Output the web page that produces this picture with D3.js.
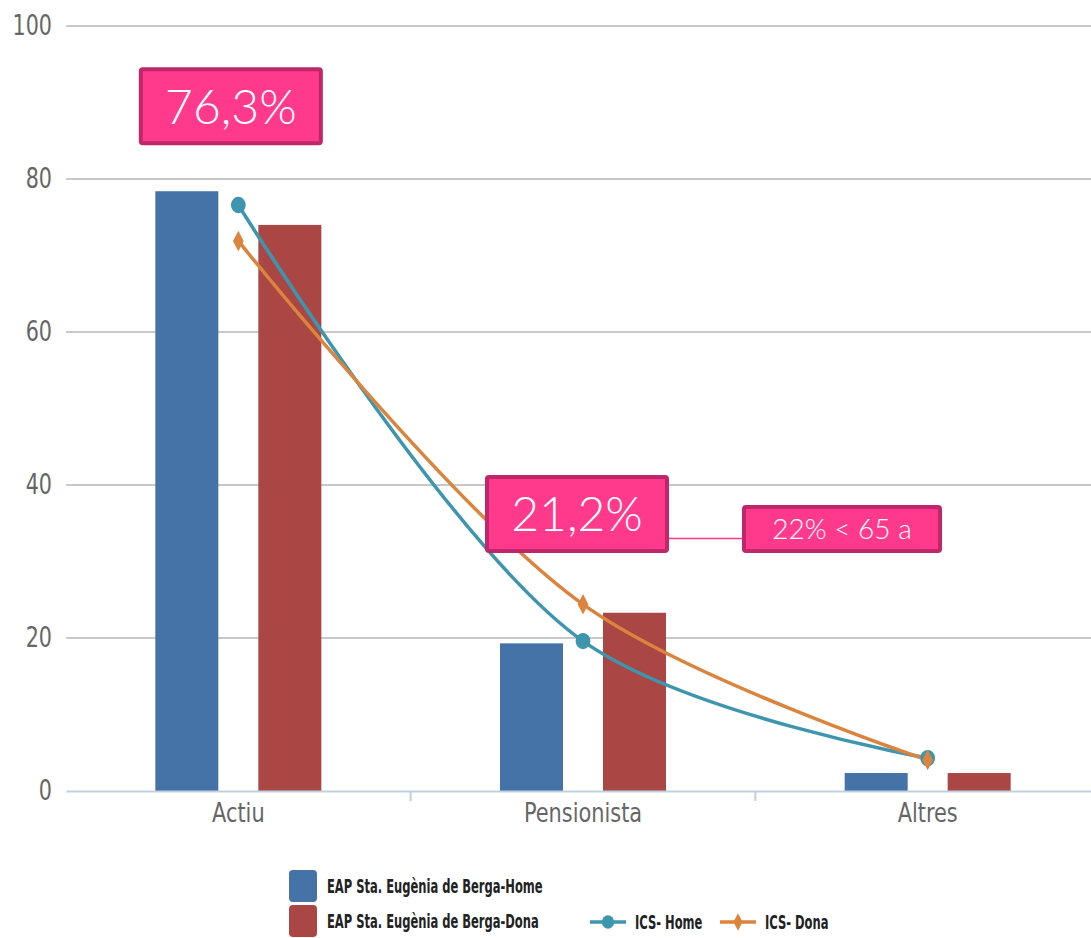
<!DOCTYPE html>
<html>
<head>
<meta charset="utf-8">
<script src="https://cdn.jsdelivr.net/npm/d3@7"></script>
<style>
  body { margin: 0; background: #fff; }
  .narrow { font-family: "Liberation Sans Narrow", "DejaVu Sans Condensed", "Open Sans", sans-serif; font-stretch: condensed; }
  .note { font-family: Lato, "Open Sans", sans-serif; font-weight: 300; }
</style>
</head>
<body>
<svg id="chart"></svg>
<script>
let categories = ['Actiu', 'Pensionista', 'Altres']
let eapHome = [78.4, 19.3, 2.35]
let eapDona = [74.0, 23.3, 2.35]
let icsHome = [76.6, 19.6, 4.3]
let icsDona = [71.9, 24.4, 4.05]
let yTicks = [0, 20, 40, 60, 80, 100]

let width = 1091
let height = 938
let plotLeft = 66
let plotRight = 1100
let plotTop = 26
let plotBottom = 791

let svg = d3.select('#chart').attr('width', width).attr('height', height)

let xScale = d3.scaleBand().domain(categories).range([plotLeft, plotRight])
let yScale = d3.scaleLinear().domain([0, 100]).range([plotBottom, plotTop])

let barW = 63
let barOff = 51.5

// grid
svg.append('g')
    .selectAll('line')
    .data(yTicks.filter(d => d > 0))
    .enter()
    .append('line')
    .attr('x1', plotLeft)
    .attr('x2', width)
    .attr('y1', d => yScale(d))
    .attr('y2', d => yScale(d))
    .attr('stroke', '#c8c8c8')
    .attr('stroke-width', 2)

// y labels
let yAxis = d3.axisLeft(yScale).tickValues(yTicks).tickSize(0)
let gy = svg.append('g')
    .attr('transform', 'translate(' + plotLeft + ',0)')
    .call(yAxis)
gy.select('.domain').remove()
gy.selectAll('text')
    .attr('class', 'narrow')
    .attr('font-size', 28)
    .attr('fill', '#666')
    .attr('x', -14 / 0.82)
    .attr('transform', 'scale(0.82,1)')

// bars
let series = [
    { vals: eapHome, color: '#4572a7', off: -barOff },
    { vals: eapDona, color: '#aa4643', off: barOff }
]
series.forEach(s => {
    svg.append('g')
        .selectAll('rect')
        .data(categories)
        .enter()
        .append('rect')
        .attr('x', (c) => xScale(c) + xScale.bandwidth() / 2 + s.off - barW / 2)
        .attr('width', barW)
        .attr('y', (c, i) => yScale(s.vals[i]))
        .attr('height', (c, i) => plotBottom - yScale(s.vals[i]))
        .attr('fill', s.color)
})

// x axis
let xAxis = d3.axisBottom(xScale).tickSize(0).tickPadding(12)
let gx = svg.append('g')
    .attr('transform', 'translate(0,' + plotBottom + ')')
    .call(xAxis)
gx.select('.domain').attr('stroke', '#c0d0e0').attr('stroke-width', 2)
gx.selectAll('text')
    .attr('class', 'narrow')
    .attr('font-size', 27)
    .attr('fill', '#666')
    .attr('transform', 'scale(0.86,1)')
gx.selectAll('.sep')
    .data(categories.slice(1))
    .enter()
    .append('line')
    .attr('x1', c => xScale(c))
    .attr('x2', c => xScale(c))
    .attr('y1', 0)
    .attr('y2', 10)
    .attr('stroke', '#c0d0e0')
    .attr('stroke-width', 2)

// spline lines
let cx = (c) => xScale(c) + xScale.bandwidth() / 2
let line = d3.line()
    .x((d, i) => cx(categories[i]))
    .y(d => yScale(d))
    .curve(d3.curveCatmullRom.alpha(0.5))

let lines = [
    { vals: icsHome, color: '#3d96ae', symbol: d3.symbolCircle, size: 190 },
    { vals: icsDona, color: '#db843d', symbol: d3.symbolDiamond, size: 110 }
]
lines.forEach(l => {
    svg.append('path')
        .attr('d', line(l.vals))
        .attr('fill', 'none')
        .attr('stroke', l.color)
        .attr('stroke-width', 3.5)
})
lines.forEach(l => {
    svg.append('g')
        .selectAll('path')
        .data(l.vals)
        .enter()
        .append('path')
        .attr('d', d3.symbol().type(l.symbol).size(l.size))
        .attr('transform', (d, i) => 'translate(' + cx(categories[i]) + ',' + yScale(d) + ') scale(0.95,1.05)')
        .attr('fill', l.color)
})

// annotation boxes
let drawNote = (x, y, w, h, text, size) => {
    let g = svg.append('g')
    g.append('rect')
        .attr('x', x + 2).attr('y', y + 2)
        .attr('width', w - 4).attr('height', h - 4)
        .attr('rx', 2)
        .attr('fill', '#ff3a8c')
        .attr('stroke', '#c0266a')
        .attr('stroke-width', 4)
    g.append('text')
        .attr('class', 'note')
        .attr('x', x + w / 2)
        .attr('y', y + h / 2)
        .attr('dy', '0.36em')
        .attr('text-anchor', 'middle')
        .attr('font-size', size)
        .attr('fill', '#fff')
        .text(text)
}
svg.append('line')
    .attr('x1', cx('Pensionista') + 86).attr('x2', cx('Pensionista') + 160)
    .attr('y1', yScale(33)).attr('y2', yScale(33))
    .attr('stroke', '#ff3a8c').attr('stroke-width', 1.5)
drawNote(cx('Actiu') - 99.5, yScale(94.6), 184, 78, '76,3%', 48)
drawNote(cx('Pensionista') - 98, yScale(41.3), 184, 78, '21,2%', 48)
drawNote(cx('Pensionista') + 159, yScale(37.4), 200, 48, '22% < 65 a', 28)

// legend
let legend = svg.append('g').attr('class', 'narrow')
let legItems = [
    { type: 'rect', color: '#4572a7', label: 'EAP Sta. Eugènia de Berga-Home', x: 289, y: 886 },
    { type: 'rect', color: '#aa4643', label: 'EAP Sta. Eugènia de Berga-Dona', x: 289, y: 921 },
    { type: 'line', color: '#3d96ae', symbol: d3.symbolCircle, size: 130, label: 'ICS- Home', x: 590, y: 922 },
    { type: 'line', color: '#db843d', symbol: d3.symbolDiamond, size: 80, label: 'ICS- Dona', x: 720, y: 922 }
]
legItems.forEach(it => {
    let g = legend.append('g').attr('transform', 'translate(' + it.x + ',' + it.y + ')')
    let tx
    if (it.type === 'rect') {
        g.append('rect').attr('x', 0).attr('y', -16).attr('width', 28).attr('height', 32)
            .attr('rx', 4).attr('fill', it.color)
        tx = 38
    } else {
        g.append('line').attr('x1', 0).attr('x2', 36).attr('y1', 0).attr('y2', 0)
            .attr('stroke', it.color).attr('stroke-width', 3.5)
        g.append('path').attr('d', d3.symbol().type(it.symbol).size(it.size))
            .attr('transform', 'translate(18,0) scale(0.95,1.05)').attr('fill', it.color)
        tx = 45
    }
    g.append('text')
        .attr('transform', 'translate(' + tx + ',0) scale(0.64,1)')
        .attr('dy', '0.35em')
        .attr('font-size', 20).attr('font-weight', 'bold').attr('fill', '#222')
        .text(it.label)
})
</script>
</body>
</html>
